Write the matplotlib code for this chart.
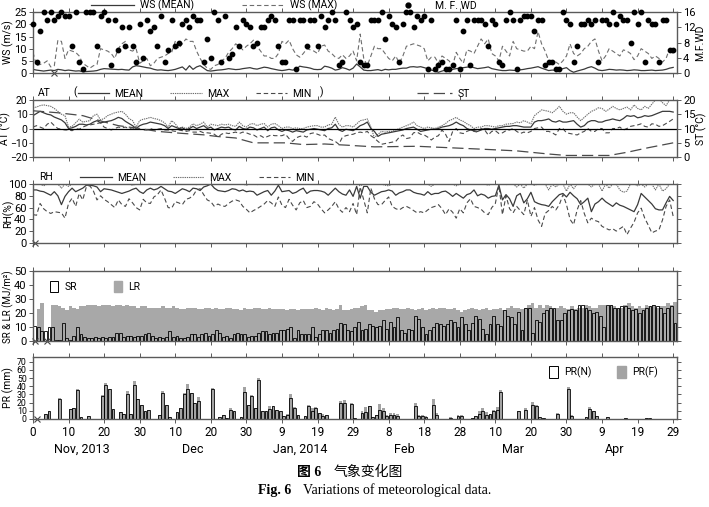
import numpy as np
import matplotlib.pyplot as plt
from matplotlib.lines import Line2D
from matplotlib.patches import Patch

plt.rcParams['font.family'] = ['Roboto', 'DejaVu Sans']
plt.rcParams['font.size'] = 7.5

# ------------------------------------------------------------------
# data (daily values, day 0 = 31 Oct 2013)
# ------------------------------------------------------------------
days = np.arange(181)

WS_MEAN = [1.5, 1.2, 1, 0.8, 1, 1.2, 1, 1.5, 1.3, 1.0,
           1.2, 1, 0.8, 0.9, 0.5, 0.6, 0.7, 0.8, 1, 1.5,
           1.8, 1.7, 1.6, 1.5, 1.4, 1.5, 1.3, 1.2, 2.5, 3,
           2.8, 2.5, 2.2, 2, 1.5, 1.2, 1.3, 1.1, 1, 1.2,
           1.5, 2, 2.5, 1.2, 3, 1.5, 2.5, 3, 2, 1,
           0.8, 1, 1.2, 1.3, 1.5, 1.8, 1.6, 1.4, 1.5, 1.8,
           2, 2.2, 1.8, 1.6, 2, 2.4, 2.2, 1.8, 1.5, 1.2,
           1, 1.2, 1.5, 1.2, 1.5, 2.8, 2.5, 2.3, 2, 1.5,
           1.4, 1.5, 2.8, 2.5, 2, 1.2, 1.5, 2.2, 1.8, 1.2,
           2, 3.7, 2.5, 1.2, 1, 1, 1.2, 1.4, 1, 1.5,
           1.3, 1.5, 1.5, 1.8, 2, 2, 2.5, 2.6, 2.4, 2.6,
           2.2, 1.8, 1.2, 0.8, 0.3, 0.8, 1.2, 1, 1.5, 1.8,
           2, 2.2, 2.4, 2.6, 2.2, 1.8, 2, 2.2, 2.5, 1.8,
           1.5, 1.2, 1, 1, 1.2, 1.1, 1, 1.3, 1.5, 1.8,
           2, 2.3, 2.6, 2, 1.5, 1, 1.2, 1.1, 1.3, 1.8,
           2.2, 1, 0.3, 0.8, 1.2, 1.6, 2.2, 2.6, 2, 1.2,
           1, 1.2, 1.5, 1.4, 1.2, 1.3, 1.2, 1, 1.1, 1.3,
           1.2, 1, 1, 1.1, 1.2, 1, 1.1, 1.2, 1.5, 2, 2.3]

WS_MAX = [8.5, 3, 3.5, 4, 5, 2.5, 3, 13.5, 13, 6,
          9.5, 9, 8.5, 7, 4, 3, 2, 3, 3.5, 10,
          9.5, 9, 8, 6, 10, 12, 13, 9.5, 9, 10,
          4, 5, 6, 3, 4, 6, 6.5, 7, 8, 8.5,
          13, 10, 12, 14, 13, 13, 9, 6, 3.5, 2,
          1.5, 3, 3.5, 5, 6, 8.5, 10, 12, 11, 9.5,
          11, 12, 13.5, 11, 9, 7, 7, 6, 6, 8,
          13, 12, 13.5, 10, 7.5, 6.5, 8, 10, 9.5, 9,
          8, 11, 11.5, 9, 8, 6.5, 6, 7.5, 6, 7,
          9, 5, 16, 6, 3, 7, 11, 10, 10, 8,
          6, 5, 7, 4, 7, 11, 11.5, 12, 11.5, 11,
          10, 5, 6.5, 6.5, 4, 7, 6, 5, 3, 8.5,
          6, 4, 9.5, 9, 8, 11, 14, 12, 14, 8,
          7, 5, 11, 9, 7, 13, 10, 9.5, 9, 9,
          11, 10, 17, 12, 9, 5, 5, 4.5, 3.5, 5,
          7, 12, 8, 7, 8, 10, 11, 13, 14, 9,
          5, 7, 10, 9, 8, 7, 9.5, 9, 8, 5.5,
          7, 10, 9, 8, 6, 7, 6, 4.5, 6, 10, 8]

MF_WD = [13, 3, 11, 16, 14, 16, 14, 15, 16, 15,
         15, 7, 16, 3, 1, 16, 16, 16, 7, 15,
         16, 14, 2, 14, 6, 12, 7, 12, 7, 3,
         13, 4, 14, 11, 12, 7, 15, 3, 6, 14,
         7, 8, 13, 14, 12, 15, 14, 14, 3, 9,
         4, 16, 14, 3, 15, 4, 5, 12, 7, 14,
         13, 12, 7, 8, 12, 12, 14, 15, 14, 7,
         3, 3, 14, 14, 1, 14, 14, 7, 14, 14,
         7, 15, 12, 14, 16, 14, 2, 3, 16, 14,
         12, 13, 3, 2, 2, 14, 14, 14, 16, 9,
         15, 13, 12, 3, 13, 16, 16, 12, 15, 14,
         15, 1, 14, 1, 2, 3, 1, 1, 2, 14,
         1, 11, 14, 2, 14, 14, 14, 13, 7, 14,
         13, 3, 2, 14, 16, 14, 1, 14, 15, 15,
         15, 11, 14, 14, 2, 3, 3, 1, 1, 16,
         14, 13, 3, 7, 13, 13, 14, 13, 14, 3,
         14, 14, 13, 16, 13, 15, 14, 14, 8, 16,
         13, 16, 3, 14, 13, 13, 3, 14, 14, 6, 6]

AT_MAX = [14.5, 15, 16, 16.5, 16, 15.5, 14, 12, 10, 9,
          1, 1.5, 4, 6.5, 4.5, 5, 5.5, 9, 10, 6,
          7, 9, 10, 11, 11.5, 12, 10, 7, 5.5, 1,
          5.5, 6.5, 7, 7.8, 7, 6.5, 5.5, 4, 1, 5.5,
          3.3, 0, 1, 0, 1, 3.3, 2, 3, 4.5, 1,
          3, 2.5, 2, 3, 2.5, 3, 2, 1.5, 4.5, 2,
          1, 3, 3.5, 2, 3, 3.5, 1, 3, 3.5, 2,
          0, 1, 1, 0, 0.5, 0, 0, 1, 1.5, 2,
          2, 1, 1, 2.5, 3, 8, 3, 1, 2, 2,
          1, 3.3, 5.5, 6, 6.7, 1, -6.5, -4, -2, -2.5,
          -2, -2, -1, 0, 1, 2, 3, 4.5, 2, 1,
          0, 1, 0.5, 0, 1, 2, 3.5, 5.5, 6.5, 7.8,
          6, 5, 3.3, 2, 0, 1, 1, 2, 2, 1.5,
          1, 2, 2, 3, 3.3, 3.5, 4.5, 4, 5.5, 4.5,
          3.3, 9, 11, 13, 12.5, 12, 11, 13, 15.5, 12,
          10, 11, 11, 8, 5.5, 7.8, 10, 12, 13, 14.5,
          14, 12, 13.5, 15.5, 14, 13, 14, 15, 13, 16.5,
          14, 13, 15.5, 14, 17, 20, 21, 18, 16, 20, 19.5]

AT_MEAN = [9, 10.5, 12, 11, 10, 9.5, 8, 7, 6, 4,
           0, 0.5, 1.5, 3, 3, 2.5, 3, 4.5, 5.5, 4,
           4.5, 5, 5.5, 6.5, 7.8, 7, 5, 3.5, 2, 0,
           2, 3, 3.5, 4.5, 4, 3.5, 3, 2, 0, 2,
           1, 0, 0.5, -1, 0, 1.5, 0, 1, 2, 0,
           1, -1, 0, 1, 0.5, 1, -0.5, -1, 1.5, 0,
           -0.5, 1, 0.5, -1, 0, 1, -1.5, 0.5, 1, -1,
           -2, -1, -1.5, -2.5, -1.5, -2, -2.5, -1, -0.5, 0,
           -0.5, -1, -1.5, 0, 0.5, 3, -1, -2, -0.5, -1,
           -1.5, 0, 2, 3, 4.5, 0, -2, -5.5, -4, -3.5,
           -3, -2.5, -2, -1.5, -1, 0, 0.5, 1, -0.5, -2,
           -1.5, -1, -0.5, -0.5, 0, 1, 1.5, 2, 3, 4.5,
           3, 2, 0, -1, -1.5, -2, -1, 0, 0, -0.5,
           0, 0.5, 1, 1.5, 1.5, 2, 2, 1.5, 1, 1,
           1, 4.5, 5.5, 5.5, 6, 6.7, 5, 4.5, 5.5, 4.5,
           4.5, 5, 5.5, 3, 1, 2, 4.5, 5.5, 5.5, 4.5,
           4.5, 5.5, 6, 6.7, 6, 5.5, 7, 9, 8.5, 9,
           7.5, 8, 9, 8.5, 9, 10, 11, 12, 12, 12, 11.5]

AT_MIN = [1, 2, 1, 0, 3, 4.5, 2, 0, -0.5, -1,
          -1, -1.5, 0, -0.5, 1, 2, 2.5, 3, 3.5, 4,
          1, 0, -1, 0, 1, 0.5, 1, 0, 0.5, -0.5,
          -0.5, -1, -1, 0, -1, -0.5, 0, -1, -1, -1.5,
          -2, -1, -1.5, -2, -1.5, -2.5, -2.5, -2, -3, -3,
          -3.3, -4, -6, -4, -3, -3.5, -3, -2.5, -3.5, -2.5,
          -3, -4, -4.5, -6, -5, -6.5, -5.5, -4.5, -5, -5,
          -5, -4, -7, -9, -6.5, -5.5, -5, -6, -3.5, -3,
          -4, -5, -4.5, -7, -8, -9, -11, -6, -5, -4.4,
          -4, -3, -2.5, -3, -2, -5, -6.7, -9, -11, -10.5,
          -10, -9.5, -9, -6, -4.5, -7, -6.5, -3, -2.5, -4,
          -4.5, -6, -8, -6, -5, -1, -4, -9, -2, 0,
          -3, -3.5, -2, -1, -2, -2.5, 0, -1, -4.5, -2,
          -1.5, -3.5, -3, -1.5, -1, 0, -2, -3.5, -2.5, -3,
          -2, 0, 0.5, 1, -2, -2, -3, -4.5, 0, 0,
          -3, -3.5, -4, -4.5, -3, -2, 0, -2, -2, 0,
          0, -3, -3, 0, 0, 1, -1, 0, 1.5, 2,
          2.5, 3.3, 1.5, 1, 3.3, 3, 1.5, 2, 3.5, 5, 6.7]

# soil temperature, read at the bends of the smooth curve
ST_DAYS = [0, 7, 14, 20, 24, 30, 35, 42, 48, 52, 57, 62, 71, 76, 82, 88,
           96, 108, 117, 126, 136, 145, 150, 162, 167, 173, 180]
ST = [16.2, 15.5, 14.5, 12.3, 11, 10, 9, 8.3, 7.8, 7.2, 6.7, 5, 5, 4.4, 4.6, 4.2,
      3.6, 3.8, 3.3, 2.8, 2.2, 1.1, 0.6, 0.6, 1.7, 3.3, 5]

RH_MEAN = [90, 90, 88, 87, 84, 81, 87, 80, 65, 79,
           87, 93, 87, 90, 93, 98, 98, 97, 95, 87,
           92, 91, 90, 88, 86, 84, 86, 88, 91, 93,
           87, 84, 90, 93, 90, 92, 96, 92, 88, 87,
           84, 88, 92, 90, 87, 93, 92, 89, 95, 97,
           100, 93, 89, 88, 87, 89, 92, 91, 88, 90,
           87, 88, 87, 81, 84, 87, 89, 81, 88, 98,
           87, 88, 89, 84, 86, 90, 93, 84, 88, 89,
           89, 88, 86, 81, 87, 93, 87, 83, 81, 90,
           79, 96, 76, 96, 96, 86, 81, 84, 87, 88,
           90, 88, 81, 85, 87, 90, 90, 86, 84, 83,
           81, 87, 82, 84, 84, 87, 88, 84, 79, 84,
           80, 76, 82, 84, 90, 80, 83, 81, 76, 79,
           80, 98, 73, 82, 75, 62, 80, 84, 68, 75,
           86, 70, 67, 65, 64, 62, 70, 76, 82, 84,
           78, 86, 80, 75, 65, 70, 76, 53, 66, 70,
           76, 70, 66, 62, 68, 64, 62, 59, 56, 53,
           65, 84, 78, 72, 66, 58, 56, 56, 68, 79, 72]

RH_MAX = [100, 100, 100, 97, 100, 100, 100, 100, 93, 100,
          96, 100, 100, 100, 100, 100, 100, 100, 100, 100,
          100, 100, 100, 100, 100, 100, 100, 100, 98, 100,
          100, 100, 100, 100, 100, 100, 100, 100, 100, 100,
          100, 100, 100, 100, 100, 100, 99, 100, 100, 100,
          100, 100, 100, 100, 100, 100, 100, 100, 100, 100,
          98, 100, 100, 99, 100, 100, 100, 100, 100, 100,
          100, 100, 100, 100, 100, 100, 100, 100, 100, 100,
          100, 100, 100, 100, 100, 100, 100, 100, 99, 100,
          100, 100, 97, 100, 100, 100, 100, 100, 100, 98,
          97, 100, 100, 100, 100, 100, 100, 100, 100, 100,
          100, 100, 96, 100, 100, 100, 100, 100, 100, 97,
          100, 100, 100, 100, 100, 100, 100, 100, 98, 100,
          100, 100, 100, 99, 100, 100, 95, 100, 93, 100,
          100, 98, 100, 100, 100, 90, 100, 95, 100, 100,
          88, 100, 92, 100, 100, 100, 100, 95, 100, 100,
          88, 100, 93, 100, 100, 90, 86, 88, 100, 100,
          97, 100, 95, 100, 100, 90, 100, 88, 92, 100, 100]

RH_MIN = [48, 47, 67, 58, 53, 50, 53, 52, 51, 42,
          67, 76, 62, 84, 73, 95, 97, 88, 73, 80,
          74, 70, 65, 60, 73, 65, 62, 75, 68, 60,
          56, 74, 68, 67, 78, 82, 90, 76, 60, 59,
          70, 68, 65, 74, 76, 80, 90, 92, 82, 73,
          70, 62, 66, 63, 62, 67, 71, 73, 71, 62,
          57, 51, 55, 58, 62, 66, 72, 68, 62, 78,
          64, 60, 74, 64, 56, 68, 72, 60, 62, 70,
          66, 58, 51, 56, 62, 70, 58, 52, 60, 53,
          67, 48, 95, 73, 51, 93, 75, 65, 65, 72,
          78, 62, 58, 56, 60, 62, 59, 55, 51, 53,
          51, 56, 60, 62, 65, 58, 48, 58, 52, 42,
          58, 51, 68, 75, 62, 60, 57, 51, 48, 60,
          67, 98, 48, 80, 58, 51, 62, 55, 48, 73,
          45, 60, 39, 28, 50, 55, 62, 56, 65, 82,
          65, 40, 31, 56, 72, 50, 34, 42, 38, 36,
          28, 25, 22, 24, 20, 24, 28, 14, 25, 35,
          51, 59, 42, 30, 17, 20, 22, 39, 62, 73, 45]

SR = [11, 10, 7, 7, 10, 10, 1, 1, 13, 2,
      1, 4, 10, 5, 3, 2, 2, 3, 2, 3,
      2, 3, 3, 6, 6, 3, 4, 4, 3, 4,
      4, 5, 6, 4, 2, 3, 2, 3, 7, 3,
      4, 2, 2, 3, 5, 5, 3, 5, 6, 4,
      5, 8, 6, 3, 4, 2, 5, 6, 5, 5,
      3, 4, 4, 6, 7, 7, 5, 6, 6, 8,
      8, 9, 10, 2, 8, 5, 5, 5, 10, 3,
      5, 8, 8, 6, 8, 9, 13, 12, 8, 7,
      10, 14, 8, 9, 12, 11, 10, 11, 15, 9,
      14, 10, 17, 8, 6, 9, 8, 18, 16, 10,
      5, 8, 10, 13, 12, 11, 12, 15, 14, 10,
      17, 12, 8, 13, 18, 16, 9, 5, 12, 18,
      12, 11, 22, 18, 17, 12, 21, 8, 24, 24,
      6, 15, 14, 20, 22, 24, 24, 15, 15, 20,
      22, 23, 22, 26, 26, 24, 22, 20, 21, 18,
      10, 26, 26, 24, 24, 25, 25, 24, 22, 23,
      20, 22, 24, 25, 26, 25, 24, 20, 24, 25, 13]

LR = [0, 23, 27, 0, 0, 26, 26, 25, 24, 22,
      25, 24, 23, 25, 25, 26, 26, 26, 25, 26,
      26, 26, 25, 26, 26, 25, 26, 25, 25, 24,
      25, 25, 24, 24, 24, 24, 25, 24, 24, 25,
      24, 23, 23, 24, 24, 24, 23, 23, 24, 24,
      23, 24, 23, 23, 24, 24, 23, 23, 22, 24,
      23, 23, 24, 24, 23, 23, 24, 23, 23, 23,
      23, 22, 23, 23, 22, 23, 23, 23, 23, 24,
      23, 22, 24, 23, 22, 23, 26, 22, 22, 23,
      24, 24, 25, 26, 22, 22, 21, 22, 22, 23,
      23, 24, 24, 23, 23, 24, 23, 22, 23, 24,
      22, 23, 24, 23, 24, 24, 23, 23, 24, 22,
      21, 22, 23, 24, 23, 22, 23, 24, 22, 23,
      23, 24, 22, 24, 25, 24, 24, 23, 24, 26,
      27, 24, 26, 24, 26, 25, 23, 24, 25, 24,
      23, 25, 23, 24, 24, 26, 25, 24, 24, 26,
      26, 25, 26, 25, 24, 24, 26, 27, 25, 24,
      25, 24, 26, 25, 26, 24, 25, 25, 27, 26, 28]

# precipitation, only the days with rain
PR_DAYS = [3, 4, 7, 10, 11, 12, 13, 15, 19, 20, 21, 22, 24, 25, 26, 27, 28, 29, 30, 31,
           32, 35, 36, 37, 38, 40, 41, 42, 43, 44, 45, 46, 50, 52, 53, 54, 55, 56, 58, 59,
           60, 61, 62, 63, 64, 65, 66, 67, 68, 69, 70, 71, 72, 73, 74, 76, 77, 78, 79, 80,
           81, 82, 86, 87, 89, 90, 92, 93, 94, 95, 96, 97, 98, 99, 100, 101, 102, 107, 108, 109,
           110, 112, 113, 117, 119, 120, 123, 124, 125, 126, 127, 128, 129, 130, 131, 136, 138, 140, 141, 142,
           143, 147, 150, 151, 155, 156, 157, 158, 161, 166, 172, 173]
PR_N = [6, 9, 24, 12, 13, 35, 2, 4, 28, 42, 36, 12, 8, 6, 30, 6, 41, 24, 17, 10,
        11, 5, 32, 17, 2, 8, 13, 31, 37, 32, 19, 22, 37, 2, 5, 1, 11, 9, 2, 33,
        17, 28, 13, 48, 10, 9, 12, 16, 11, 9, 4, 5, 26, 13, 5, 4, 16, 10, 13, 7,
        4, 5, 20, 20, 18, 1, 7, 8, 16, 2, 5, 11, 9, 3, 5, 5, 4, 16, 3, 3,
        2, 17, 5, 1, 3, 4, 1, 3, 6, 10, 5, 6, 9, 11, 33, 9, 11, 17, 16, 2,
        1, 6, 37, 3, 2, 12, 9, 3, 2, 1, 1, 1]
PR_F = [6, 9, 25, 12, 13, 37, 2, 4, 29, 44, 37, 12, 8, 6, 34, 6, 47, 24, 17, 10,
        11, 5, 34, 17, 2, 8, 13, 32, 43, 32, 19, 27, 38, 2, 5, 1, 13, 9, 2, 39,
        17, 29, 13, 50, 10, 10, 16, 16, 11, 9, 4, 6, 31, 15, 5, 4, 17, 13, 14, 7,
        6, 5, 22, 23, 19, 1, 9, 15, 16, 2, 5, 18, 13, 5, 7, 7, 6, 20, 5, 5,
        4, 24, 7, 2, 5, 5, 1, 3, 9, 13, 8, 6, 11, 14, 35, 9, 13, 21, 17, 2,
        1, 7, 39, 5, 2, 15, 10, 3, 2, 1, 1, 1]

# days with no record (drawn as x on the base line)
WS_GAPS = [6]
RH_GAPS = [0.5]
SR_GAPS = [0.5, 4]
PR_GAPS = [1]

TICK_DAYS = np.arange(0, 181, 10)
TICK_LABELS = ['0', '10', '20', '30', '10', '20', '30', '9', '19', '29',
               '8', '18', '28', '10', '20', '30', '9', '19', '29']
MONTH_CENTERS = [13.8, 45, 75, 104.5, 135, 163.5]
MONTH_NAMES = ['Nov, 2013', 'Dec', 'Jan, 2014', 'Feb', 'Mar', 'Apr']

# ------------------------------------------------------------------
# layout
# ------------------------------------------------------------------
fig = plt.figure(figsize=(7.09, 5.07), dpi=100)
L, W = 0.0465, 0.908
ax1 = fig.add_axes([L, 0.856, W, 0.120])
ax2 = fig.add_axes([L, 0.690, W, 0.113])
ax3 = fig.add_axes([L, 0.521, W, 0.116])
ax4 = fig.add_axes([L, 0.327, W, 0.138])
ax5 = fig.add_axes([L, 0.174, W, 0.122])

C_MEAN = '#3a3a3a'
C_MAX = '#6e6e6e'
C_MIN = '#4a4a4a'
C_SPINE = '#5a5a5a'
DOT = (0, (1.2, 0.8))
DASH = (0, (4, 2.5))
LONGDASH = (0, (9, 4))
LEG_FS = 7.5

for ax in [ax1, ax2, ax3, ax4, ax5]:
    ax.set_xlim(0, 181)
    ax.set_xticks(TICK_DAYS)
    ax.tick_params(axis='x', direction='out', top=True, bottom=True,
                   labelbottom=False, length=3, width=0.7, color=C_SPINE)
    ax.tick_params(axis='y', direction='out', length=3, width=0.7, color=C_SPINE,
                   pad=1.5, labelsize=8)
    for s in ax.spines.values():
        s.set_color(C_SPINE)
        s.set_linewidth(1.0)


def right_axis(ax, label):
    ax.tick_params(direction='out', length=3, width=0.7, color=C_SPINE, pad=1.5, labelsize=8)
    ax.set_ylabel(label, fontsize=7.5)
    ax.yaxis.set_label_coords(1.029, 0.5)
    for s in ax.spines.values():
        s.set_visible(False)


def mean_max_min_legend(ax, x0):
    return ax.legend([Line2D([], [], color=C_MEAN, lw=0.9),
                      Line2D([], [], color=C_MAX, lw=0.8, ls=DOT),
                      Line2D([], [], color=C_MIN, lw=0.8, ls=DASH)],
                     ['MEAN', 'MAX', 'MIN'],
                     loc='lower left', bbox_to_anchor=(x0, 1.0), ncol=3, frameon=False,
                     handlelength=3.0, columnspacing=2.6, handletextpad=0.5,
                     borderaxespad=0, borderpad=0.1, fontsize=LEG_FS)


# ------------------------------------------------------------------
# panel 1: wind
# ------------------------------------------------------------------
ax1.plot(days, WS_MEAN, color=C_MEAN, lw=0.9)
ax1.plot(days, WS_MAX, color=C_MAX, lw=0.8, ls=DASH)
ax1.plot(WS_GAPS, [0] * len(WS_GAPS), 'x', color='#444', ms=4, mew=0.8, clip_on=False)
ax1.set_ylim(0, 25)
ax1.set_yticks([0, 5, 10, 15, 20, 25])
ax1.set_ylabel('WS (m/s)', fontsize=7.5)
ax1r = ax1.twinx()
ax1r.scatter(days, MF_WD, s=10, color='black', clip_on=False, zorder=3)
ax1r.set_ylim(0, 16)
ax1r.set_yticks([0, 4, 8, 12, 16])
right_axis(ax1r, 'M.F.WD')
ax1.legend([Line2D([], [], color=C_MEAN, lw=0.9),
            Line2D([], [], color=C_MAX, lw=0.8, ls=DASH),
            Line2D([], [], marker='o', ls='none', color='black', ms=3.5)],
           ['WS (MEAN)', 'WS (MAX)', 'M. F. WD'],
           loc='lower left', bbox_to_anchor=(0.088, 0.995), ncol=3, frameon=False,
           handlelength=4.2, columnspacing=4.6, handletextpad=0.5, borderaxespad=0,
           borderpad=0.1, fontsize=LEG_FS)

# ------------------------------------------------------------------
# panel 2: air and soil temperature
# ------------------------------------------------------------------
ax2.plot(days, AT_MAX, color=C_MAX, lw=0.8, ls=DOT)
ax2.plot(days, AT_MEAN, color=C_MEAN, lw=0.9)
ax2.plot(days, AT_MIN, color=C_MIN, lw=0.8, ls=DASH)
ax2.axhline(0, color='black', lw=0.9)
ax2.set_ylim(-20, 20)
ax2.set_yticks([-20, -10, 0, 10, 20])
ax2.tick_params(axis='y', labelsize=7.5, pad=1)
ax2.set_ylabel('AT (°C)', fontsize=7.5)
ax2r = ax2.twinx()
ax2r.plot(ST_DAYS, ST, color=C_MIN, lw=0.9, ls=LONGDASH)
ax2r.set_ylim(0, 20)
ax2r.set_yticks([0, 5, 10, 15, 20])
right_axis(ax2r, 'ST (°C)')
ax2.add_artist(mean_max_min_legend(ax2, 0.068))
ax2.legend([Line2D([], [], color=C_MIN, lw=0.9, ls=LONGDASH)], ['ST'],
           loc='lower left', bbox_to_anchor=(0.595, 1.0), frameon=False,
           handlelength=3.4, handletextpad=0.5, borderaxespad=0, borderpad=0.1,
           fontsize=LEG_FS)
ax2.text(0.008, 1.04, 'AT', transform=ax2.transAxes, fontsize=LEG_FS, va='bottom')
ax2.text(0.062, 1.04, '(', transform=ax2.transAxes, fontsize=LEG_FS, va='bottom')
ax2.text(0.445, 1.04, ')', transform=ax2.transAxes, fontsize=LEG_FS, va='bottom')

# ------------------------------------------------------------------
# panel 3: relative humidity
# ------------------------------------------------------------------
ax3.plot(days, RH_MAX, color=C_MAX, lw=0.8, ls=DOT)
ax3.plot(days, RH_MEAN, color=C_MEAN, lw=0.9)
ax3.plot(days, RH_MIN, color=C_MIN, lw=0.8, ls=DASH)
ax3.plot(RH_GAPS, [0] * len(RH_GAPS), 'x', color='#444', ms=4, mew=0.8, clip_on=False)
ax3.set_ylim(0, 100)
ax3.set_yticks([0, 20, 40, 60, 80, 100])
ax3.tick_params(axis='y', right=True, labelright=False)
ax3.set_ylabel('RH(%)', fontsize=7.5)
mean_max_min_legend(ax3, 0.072)
ax3.text(0.01, 1.04, 'RH', transform=ax3.transAxes, fontsize=LEG_FS, va='bottom')

# ------------------------------------------------------------------
# panel 4: solar and long-wave radiation
# ------------------------------------------------------------------
ax4.bar(days, LR, width=1.0, align='edge', color='#a8a8a8', lw=0)
ax4.bar(days + 0.1, SR, width=0.8, align='edge', facecolor='none', edgecolor='black', lw=0.6)
ax4.plot(SR_GAPS, [0] * len(SR_GAPS), 'x', color='#444', ms=4, mew=0.8, clip_on=False)
ax4.set_ylim(0, 50)
ax4.set_yticks([0, 10, 20, 30, 40, 50])
ax4.tick_params(axis='y', right=True, labelright=False)
ax4.set_ylabel('SR & LR (MJ/m²)', fontsize=7)
ax4.legend([Patch(facecolor='white', edgecolor='black', lw=0.7),
            Patch(facecolor='#a8a8a8', edgecolor='#a8a8a8')],
           ['SR', 'LR'], loc='upper left', bbox_to_anchor=(0.012, 1.0), ncol=2,
           frameon=False, handlelength=0.8, handleheight=1.3, columnspacing=3.5,
           handletextpad=0.6, fontsize=LEG_FS)

# ------------------------------------------------------------------
# panel 5: precipitation
# ------------------------------------------------------------------
pr_x = np.array(PR_DAYS) + 0.1
ax5.bar(pr_x, PR_F, width=0.8, align='edge', color='#a3a3a3', lw=0)
ax5.bar(pr_x, PR_N, width=0.8, align='edge', facecolor='none', edgecolor='black', lw=0.6)
ax5.plot(PR_GAPS, [0] * len(PR_GAPS), 'x', color='#444', ms=4, mew=0.8, clip_on=False)
ax5.set_ylim(0, 76)
ax5.set_yticks(np.arange(0, 71, 10))
ax5.tick_params(axis='y', right=True, labelright=False, labelsize=6.3)
ax5.set_ylabel('PR (mm)', fontsize=7.5)
ax5.tick_params(axis='x', labelbottom=True, pad=2, labelsize=8.5)
ax5.set_xticklabels(TICK_LABELS)
ax5.legend([Patch(facecolor='white', edgecolor='black', lw=0.7),
            Patch(facecolor='#a3a3a3', edgecolor='#a3a3a3')],
           ['PR(N)', 'PR(F)'], loc='upper right', bbox_to_anchor=(0.985, 1.0), ncol=2,
           frameon=False, handlelength=0.8, handleheight=1.3, columnspacing=2.5,
           handletextpad=0.6, fontsize=LEG_FS)
for c, name in zip(MONTH_CENTERS, MONTH_NAMES):
    ax5.text(c, -0.5, name, transform=ax5.get_xaxis_transform(), ha='center',
             va='center', fontsize=9)

for ax in [ax1, ax3, ax4, ax5]:
    ax.yaxis.set_label_coords(-0.03, 0.5)
ax2.yaxis.set_label_coords(-0.034, 0.5)

# ------------------------------------------------------------------
# caption
# ------------------------------------------------------------------
fig.text(0.419, 0.069, '图 6', ha='left', va='center', fontsize=10,
         weight='bold', family=['Liberation Serif', 'Noto Sans CJK SC'])
fig.text(0.47, 0.069, '气象变化图', ha='left', va='center', fontsize=10,
         family=['Noto Sans CJK SC'])
fig.text(0.364, 0.033, 'Fig. 6', ha='left', va='center', fontsize=10,
         weight='bold', family='Liberation Serif')
fig.text(0.428, 0.033, 'Variations of meteorological data.', ha='left', va='center',
         fontsize=10, family='Liberation Serif')

fig.savefig('out.png', dpi=100)
